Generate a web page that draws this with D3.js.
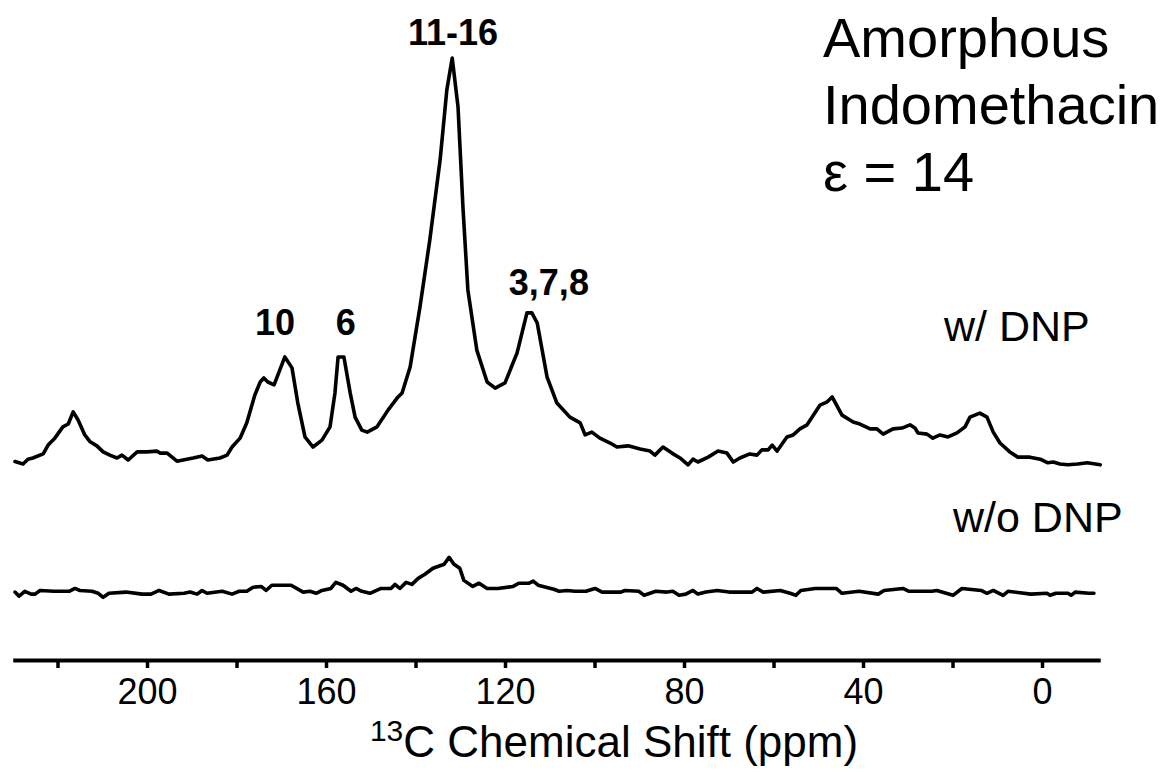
<!DOCTYPE html>
<html>
<head>
<meta charset="utf-8">
<script src="https://cdn.jsdelivr.net/npm/d3@7"></script>
<style>
  html, body { margin: 0; padding: 0; background: #fff; }
  svg { display: block; }
  text { font-family: Arial, "Liberation Sans", Helvetica, sans-serif; fill: #000; }
</style>
</head>
<body>
<svg id="chart" width="1164" height="778"></svg>
<script>
// ---- data ----
// w/ DNP spectrum: chemical shift (ppm) and intensity (a.u., main peak = 100)
const dnpPpm = [229.5,227.7,226.6,225.5,223.2,222.1,220.6,218.8,217.6,216.5,215.4,213.9,212.7,211.2,209.8,208.3,206.7,205.6,204.2,202.2,200.0,197.8,197.1,195.5,193.3,191.1,189.7,187.7,186.4,183.7,182.1,181.0,179.2,177.7,175.9,174.7,173.9,173.0,171.6,169.2,167.6,166.3,164.7,162.9,160.9,159.1,158.0,157.3,156.0,154.6,153.5,152.0,150.8,148.6,146.1,143.9,143.0,141.2,139.0,136.8,134.5,133.0,131.8,130.5,129.4,128.3,126.3,124.0,122.2,120.0,117.3,115.1,114.0,112.8,110.6,108.4,105.5,103.2,102.1,100.6,98.8,96.5,95.0,92.5,89.8,87.6,86.5,84.7,82.7,80.9,79.1,78.0,76.9,74.6,72.4,70.4,69.0,67.5,65.3,63.7,62.6,61.2,60.3,59.2,57.0,55.6,54.1,52.5,49.6,48.0,46.9,44.7,42.2,40.7,38.4,36.9,35.5,33.3,31.3,29.5,28.4,27.7,25.7,24.4,22.8,21.0,19.0,17.2,16.1,13.9,12.3,10.9,9.4,7.2,5.4,2.7,0.4,-1.3,-2.5,-4.0,-5.8,-8.0,-10.1,-13.0];
const dnpInt = [0.1,-0.5,0.7,1.0,2.0,4.2,5.9,8.7,9.4,12.4,10.4,6.7,5.0,4.0,2.5,1.7,1.0,1.7,0.5,2.5,2.5,2.7,2.2,2.2,0.2,0.7,1.0,1.5,0.5,1.0,1.7,3.7,5.9,9.7,16.6,19.8,20.8,19.8,19.1,26.0,23.3,14.6,6.2,3.7,5.4,8.7,17.1,26.0,26.0,17.1,11.1,7.9,7.4,8.7,12.9,16.1,17.1,23.5,38.4,55.0,74.8,92.1,100.0,87.9,63.1,42.6,27.7,19.8,18.3,19.6,27.0,36.9,36.9,34.4,21.0,14.6,11.1,9.7,6.7,7.4,5.9,4.7,3.7,4.0,3.2,2.7,1.7,3.7,2.2,1.0,-0.7,0.7,0.0,1.2,2.7,2.2,0.0,1.0,2.0,1.7,3.0,3.0,4.2,2.7,6.2,6.7,8.2,9.2,14.1,14.9,16.1,11.6,9.9,9.4,8.2,8.2,6.9,8.2,8.4,9.2,8.4,7.2,6.9,5.9,6.7,6.2,7.2,8.7,11.1,12.1,11.1,7.4,4.7,2.5,1.2,1.2,0.7,-0.2,0.0,-0.5,-0.7,-0.5,-0.2,-0.7];

// w/o DNP spectrum: chemical shift (ppm) and intensity (same a.u.)
const noDnpPpm = [229.5,228.6,227.3,225.9,225.0,223.9,220.8,217.4,216.1,215.0,212.3,210.9,209.8,208.5,204.7,201.1,199.1,197.3,195.1,191.7,190.4,188.8,187.7,186.6,183.2,181.0,179.4,177.7,176.3,174.5,173.4,172.1,167.8,165.1,163.6,162.2,160.9,158.9,157.8,156.2,154.4,153.3,152.0,150.2,147.7,145.5,144.6,143.5,142.1,140.8,139.4,137.9,136.1,133.6,132.5,131.4,130.1,129.2,127.2,125.8,124.0,121.6,118.2,116.9,114.6,113.7,112.6,109.1,107.9,106.1,104.4,101.9,99.9,98.3,94.1,93.2,90.1,88.9,86.3,83.8,82.5,81.1,79.6,78.0,76.9,75.1,72.6,69.9,64.8,63.7,62.3,58.5,56.3,55.0,53.9,50.7,46.0,44.7,40.9,36.6,35.3,31.1,29.7,24.6,23.5,19.9,17.9,13.6,12.3,10.9,8.7,7.6,2.5,-1.1,-1.8,-3.1,-5.8,-6.5,-7.4,-10.5,-11.6];
const noDnpInt = [-0.2,-1.2,0.0,-0.7,-0.7,0.2,0.0,0.0,0.7,0.2,0.0,-0.5,-1.5,-0.5,-0.2,-0.7,-0.7,0.2,-0.7,-0.5,-0.2,-0.7,0.2,-0.5,0.0,-0.7,0.0,0.0,1.0,1.2,0.2,1.5,1.5,-0.2,0.0,-0.5,0.2,0.7,2.2,1.5,0.0,0.7,0.0,-0.5,0.7,0.7,1.7,0.7,2.2,1.7,3.2,4.2,5.7,6.7,8.4,6.7,5.7,2.7,1.2,2.0,0.7,0.7,1.2,2.0,2.0,2.5,1.5,0.5,0.0,0.2,0.0,0.0,0.7,-0.2,-0.2,0.2,0.0,-1.0,0.0,-0.2,0.0,-1.0,-0.7,0.2,-0.7,-0.2,0.2,-0.2,-0.2,0.7,-0.2,0.2,-0.5,-1.0,0.2,0.7,0.7,-0.5,0.0,-0.7,0.2,0.7,0.0,0.0,0.2,-1.0,0.7,0.2,-0.5,0.2,-1.0,0.0,-0.7,-0.5,-1.0,-0.5,-0.5,-1.0,-0.2,-0.5,-0.5];

// axis ticks
const tickValues = [220, 200, 180, 160, 140, 120, 100, 80, 60, 40, 20, 0];
const tickLabels = ["", "200", "", "160", "", "120", "", "80", "", "40", "", "0"];

// peak assignments
const peakNames = ["10", "6", "11-16", "3,7,8"];
const peakShifts = [171.4, 155.6, 131.6, 110.2];
const peakLabelLevel = [31.4, 31.4, 103.2, 41.3];

const seriesNames = ["w/ DNP", "w/o DNP"];
const titleLines = ["Amorphous", "Indomethacin", "\u03b5 = 14"];
const axisTitle = {sup: "13", main: "C Chemical Shift (ppm)"};

// ---- drawing ----
const svg = d3.select("#chart");
const x = d3.scaleLinear().domain([230, -13]).range([12.75, 1100.2]);
const y = d3.scaleLinear().domain([0, 100]).range([462, 58]);
const stackOffset = -32.0; // vertical offset of the lower trace (a.u.)

const line = d3.line().x(d => x(d[0])).y(d => y(d[1]));

const dnpData = dnpPpm.map((p, i) => [p, dnpInt[i]]);
const noDnpData = noDnpPpm.map((p, i) => [p, noDnpInt[i] + stackOffset]);

[dnpData, noDnpData].forEach(dd => {
  svg.append("path").datum(dd).attr("d", line)
    .attr("fill", "none").attr("stroke", "#000").attr("stroke-width", 3.6)
    .attr("stroke-linejoin", "round").attr("stroke-linecap", "round");
});

// x axis
const axis = d3.axisBottom(x).tickValues(tickValues)
  .tickFormat((d, i) => tickLabels[i]).tickSize(8).tickSizeOuter(0).tickPadding(10);
const gx = svg.append("g").attr("transform", "translate(0,660)").call(axis);
gx.select(".domain").attr("stroke", "#000").attr("stroke-width", 4);
gx.selectAll(".tick line").attr("stroke", "#000").attr("stroke-width", 3.5);
gx.selectAll(".tick text").attr("font-size", 36).attr("fill", "#000")
  .attr("font-family", "Arial, 'Liberation Sans', sans-serif");

// axis title
const at = svg.append("text").attr("x", 614).attr("y", 757).attr("text-anchor", "middle")
  .attr("font-size", 44);
at.append("tspan").text(axisTitle.sup).attr("font-size", 30).attr("dy", -16);
at.append("tspan").text(axisTitle.main).attr("dy", 16);

// peak labels
peakNames.forEach((n, i) => {
  svg.append("text").attr("x", x(peakShifts[i])).attr("y", y(peakLabelLevel[i]))
    .attr("text-anchor", "middle").attr("font-size", 36).attr("font-weight", "bold").text(n);
});

// series labels
svg.append("text").attr("x", 944).attr("y", 341).attr("font-size", 43).text(seriesNames[0]);
svg.append("text").attr("x", 953).attr("y", 532).attr("font-size", 43).text(seriesNames[1]);

// title block
titleLines.forEach((t, i) => {
  svg.append("text").attr("x", 823).attr("y", 57 + i * 67).attr("font-size", 56).text(t);
});
</script>
</body>
</html>
